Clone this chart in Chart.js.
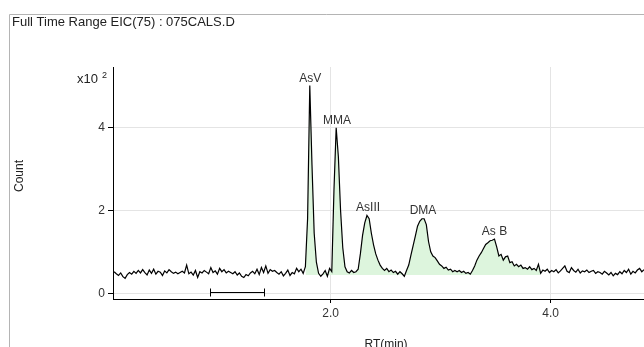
<!DOCTYPE html>
<html>
<head>
<meta charset="utf-8">
<script src="https://cdn.jsdelivr.net/npm/chart.js"></script>
<style>
  html, body { margin: 0; padding: 0; background: #fff; }
  canvas { display: block; }
</style>
</head>
<body>
<canvas id="eic" width="644" height="347"></canvas>
<script>
// sampling grid of the trace (min)
var rtStart = 0.03;
var rtStep = 0.02;

// EIC(75) counts, x10^2, one value per grid step
var counts = [
  0.52, 0.47, 0.43, 0.49, 0.40, 0.36, 0.45, 0.50, 0.46, 0.53,
  0.48, 0.55, 0.49, 0.57, 0.50, 0.44, 0.56, 0.48, 0.58, 0.46,
  0.53, 0.51, 0.43, 0.54, 0.49, 0.57, 0.52, 0.48, 0.51, 0.47,
  0.50, 0.53, 0.49, 0.68, 0.47, 0.51, 0.44, 0.55, 0.38, 0.52,
  0.49, 0.55, 0.51, 0.47, 0.62, 0.50, 0.54, 0.46, 0.60, 0.52,
  0.57, 0.49, 0.53, 0.50, 0.47, 0.52, 0.44, 0.49, 0.41, 0.38,
  0.45, 0.42, 0.49, 0.53, 0.47, 0.58, 0.45, 0.62, 0.50, 0.66,
  0.48, 0.57, 0.53, 0.55, 0.50, 0.46, 0.52, 0.42, 0.48, 0.56,
  0.43, 0.50, 0.47, 0.60, 0.52, 0.58, 0.48, 0.64, 1.80, 5.02,
  3.10, 1.45, 0.75, 0.48, 0.41, 0.47, 0.55, 0.41, 0.60, 0.52,
  2.50, 4.00, 3.30, 2.00, 1.10, 0.64, 0.52, 0.49, 0.55, 0.50,
  0.52, 0.58, 0.95, 1.40, 1.70, 1.88, 1.80, 1.45, 1.17, 0.95,
  0.80, 0.68, 0.60, 0.55, 0.60, 0.52, 0.56, 0.50, 0.53, 0.46,
  0.52, 0.47, 0.41, 0.55, 0.68, 0.92, 1.15, 1.38, 1.62, 1.74,
  1.80, 1.80, 1.66, 1.25, 1.00, 0.90, 0.86, 0.78, 0.70, 0.66,
  0.60, 0.63, 0.56, 0.58, 0.52, 0.55, 0.52, 0.55, 0.50, 0.53,
  0.48, 0.50, 0.46, 0.55, 0.66, 0.80, 0.90, 0.98, 1.08, 1.18,
  1.22, 1.27, 1.28, 1.31, 1.12, 0.90, 0.94, 0.80, 0.88, 0.90,
  0.74, 0.76, 0.66, 0.70, 0.64, 0.68, 0.60, 0.62, 0.58, 0.64,
  0.57, 0.60, 0.55, 0.70, 0.48, 0.56, 0.53, 0.58, 0.50, 0.55,
  0.52, 0.57, 0.49, 0.54, 0.60, 0.66, 0.53, 0.50, 0.62, 0.55,
  0.51, 0.58, 0.49, 0.54, 0.52, 0.56, 0.50, 0.53, 0.55, 0.48,
  0.52, 0.50, 0.46, 0.53, 0.49, 0.44, 0.50, 0.42, 0.48, 0.45,
  0.52, 0.47, 0.55, 0.50, 0.58, 0.46, 0.53, 0.49, 0.56, 0.60,
  0.52, 0.57
];

var peakNames = ['AsV', 'MMA', 'AsIII', 'DMA', 'As B'];
var peakRT = [1.815, 2.057, 2.34, 2.84, 3.49];
var peakTop = [5.02, 4.00, 1.88, 1.81, 1.31];

// integrated region
var areaRange = [1.77, 3.91];
var areaBase = 0.44;

var xTicks = [2, 4];
var yTicks = [0, 2, 4];
var scaleBar = [0.905, 1.39];

var trace = counts.map(function (v, i) {
  return { x: +(rtStart + i * rtStep).toFixed(2), y: v };
});
var area = trace.filter(function (p) {
  return p.x >= areaRange[0] && p.x <= areaRange[1];
});

var font = '"Liberation Sans", Arial, sans-serif';

var decor = {
  id: 'decor',
  afterDraw: function (chart) {
    var c = chart.ctx, xs = chart.scales.x, ys = chart.scales.y;
    c.save();
    // window frame
    c.strokeStyle = '#b4b4b4';
    c.lineWidth = 1;
    c.beginPath();
    c.moveTo(9.5, 347);
    c.lineTo(9.5, 14.5);
    c.lineTo(644, 14.5);
    c.stroke();

    c.fillStyle = '#222';
    c.font = '13px ' + font;
    c.textAlign = 'left';
    c.textBaseline = 'alphabetic';
    c.fillText('Full Time Range EIC(75) : 075CALS.D', 12, 26);
    c.fillText('x10', 77, 83);
    c.font = '9px ' + font;
    c.fillText('2', 102, 78);

    c.font = '12px ' + font;
    c.textAlign = 'center';
    c.fillText('RT(min)', 386, 348);
    c.save();
    c.translate(23, 176);
    c.rotate(-Math.PI / 2);
    c.fillText('Count', 0, 0);
    c.restore();

    // peak names
    c.fillStyle = '#333';
    for (var i = 0; i < peakNames.length; i++) {
      c.fillText(peakNames[i], xs.getPixelForValue(peakRT[i]), ys.getPixelForValue(peakTop[i]) - 4);
    }

    // scale bar
    var x1 = Math.round(xs.getPixelForValue(scaleBar[0])) + 0.5;
    var x2 = Math.round(xs.getPixelForValue(scaleBar[1])) + 0.5;
    var y = Math.round(ys.getPixelForValue(0)) - 0.5;
    c.strokeStyle = '#000';
    c.beginPath();
    c.moveTo(x1, y); c.lineTo(x2, y);
    c.moveTo(x1, y - 4); c.lineTo(x1, y + 4);
    c.moveTo(x2, y - 4); c.lineTo(x2, y + 4);
    c.stroke();
    c.restore();
  }
};

var ctx = document.getElementById('eic');
var chart = new Chart(ctx, {
  type: 'line',
  data: {
    datasets: [{
      data: trace,
      borderColor: '#000',
      borderWidth: 1.2,
      pointRadius: 0,
      tension: 0,
      fill: false
    }, {
      data: area,
      borderWidth: 0,
      borderColor: 'rgba(0,0,0,0)',
      pointRadius: 0,
      tension: 0,
      fill: { target: { value: areaBase }, above: '#ddf5dd', below: 'rgba(0,0,0,0)' }
    }]
  },
  options: {
    responsive: false,
    animation: false,
    layout: { padding: { top: 67, left: 0, right: 0, bottom: 0 } },
    plugins: { legend: { display: false }, tooltip: { enabled: false } },
    scales: {
      x: {
        type: 'linear',
        min: 0.02,
        max: 4.85,
        afterBuildTicks: function (s) { s.ticks = xTicks.map(function (v) { return { value: v }; }); },
        afterFit: function (s) { s.height = 48; },
        ticks: {
          callback: function (v) { return v.toFixed(1); },
          color: '#333',
          font: { family: font, size: 12 },
          padding: 3,
          maxRotation: 0,
          autoSkip: false
        },
        grid: { color: '#e4e4e4', tickColor: '#000', tickLength: 4 },
        border: { color: '#000', width: 1 }
      },
      y: {
        min: -0.14,
        max: 5.47,
        afterBuildTicks: function (s) { s.ticks = yTicks.map(function (v) { return { value: v }; }); },
        afterFit: function (s) { s.width = 113; },
        ticks: {
          callback: function (v) { return String(v); },
          color: '#333',
          font: { family: font, size: 12 },
          padding: 3
        },
        grid: { color: '#e4e4e4', tickColor: '#000', tickLength: 5 },
        border: { color: '#000', width: 1 }
      }
    }
  },
  plugins: [decor]
});
</script>
</body>
</html>
